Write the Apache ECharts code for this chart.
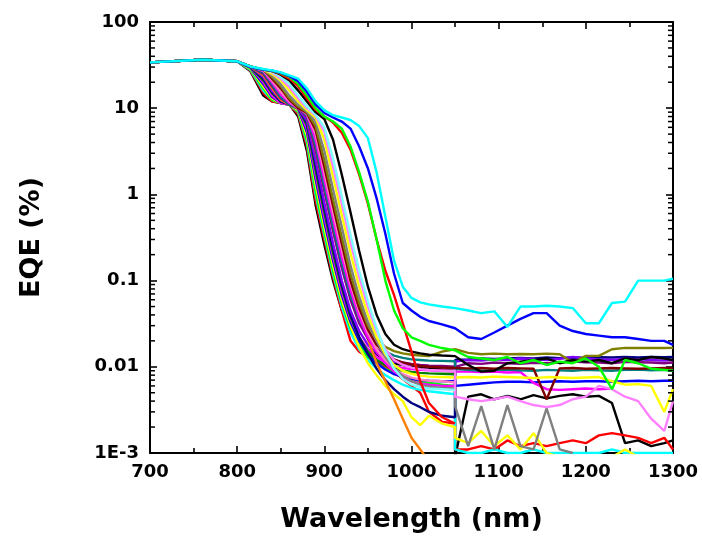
<!DOCTYPE html>
<html>
<head>
<meta charset="utf-8">
<script src="https://cdn.jsdelivr.net/npm/echarts@6/dist/echarts.min.js"></script>
<style>
  html, body { margin: 0; padding: 0; background: #fff; }
  #eqe-chart { width: 702px; height: 539px; }
</style>
</head>
<body>
<div id="eqe-chart"></div>
<script>
// wavelength grids (nm): first detector up to 1050, second detector after
const wavelengthHead = [700, 760, 800, 815, 830, 840, 850, 860, 870, 880, 890, 900, 910, 920, 930, 940, 950, 960, 970, 980, 990, 1000, 1010, 1020, 1035, 1050]
const wavelengthTail = [1050, 1065, 1080, 1095, 1110, 1125, 1140, 1155, 1170, 1185, 1200, 1215, 1230, 1245, 1260, 1275, 1290, 1300]

const yTickValues = [0.001, 0.01, 0.1, 1, 10, 100]
const yTickLabels = ['1E-3', '0.01', '0.1', '1', '10', '100']

// EQE (%) per device
const black1Head = [34, 36.5, 35, 27, 14, 12, 11.5, 11, 8, 3.2, 0.75, 0.26, 0.1, 0.045, 0.027, 0.02, 0.016, 0.014, 0.012, 0.011, 0.0105, 0.01, 0.0098, 0.0095, 0.0093, 0.0092]
const black1Tail = [0.0009, 0.0045, 0.0048, 0.0042, 0.0046, 0.0042, 0.0047, 0.0043, 0.0046, 0.0048, 0.0045, 0.0046, 0.0038, 0.0013, 0.0014, 0.0012, 0.0013, 0.0014]
const red1Head = [34, 36.5, 35, 27.5, 15, 12, 11.5, 11, 8.5, 3.6, 0.85, 0.3, 0.11, 0.045, 0.02, 0.015, 0.013, 0.0115, 0.01, 0.0088, 0.0072, 0.006, 0.005, 0.003, 0.0023, 0.0022]
const red1Tail = [0.0011, 0.0011, 0.0012, 0.0011, 0.0014, 0.0012, 0.0013, 0.0012, 0.0013, 0.0014, 0.0013, 0.0016, 0.0017, 0.0016, 0.0015, 0.0013, 0.0015, 0.0011]
const cyan1Head = [34, 36.5, 35, 28, 16, 12.5, 11.5, 11, 9, 4, 1.0, 0.34, 0.12, 0.05, 0.025, 0.016, 0.012, 0.0095, 0.008, 0.007, 0.0062, 0.0057, 0.0054, 0.0052, 0.005, 0.0048]
const cyan1Tail = [0.0011, 0.001, 0.001, 0.0011, 0.001, 0.001, 0.0011, 0.001, 0.001, 0.001, 0.001, 0.001, 0.0011, 0.001, 0.001, 0.001, 0.001, 0.001]
const green1Head = [34, 36.5, 35, 28.5, 17, 12.5, 11.5, 11, 9.2, 4.3, 1.1, 0.37, 0.13, 0.055, 0.028, 0.018, 0.013, 0.011, 0.0095, 0.0085, 0.0078, 0.0072, 0.0068, 0.0065, 0.0062, 0.006]
const yellow1Head = [34, 36.5, 35, 29, 18, 13, 11.5, 11, 9.5, 4.8, 1.3, 0.42, 0.15, 0.06, 0.03, 0.017, 0.011, 0.008, 0.006, 0.0048, 0.004, 0.0026, 0.0021, 0.0027, 0.0022, 0.002]
const yellow1Tail = [0.0015, 0.0013, 0.0018, 0.0012, 0.0016, 0.0011, 0.0017, 0.001, 0.0009, 0.0009, 0.0009, 0.0009, 0.0009, 0.0011, 0.0009, 0.0009, 0.0009, 0.0009]
const blue1Head = [34, 36.5, 35, 29.5, 19, 13.5, 11.5, 11, 9.8, 5.3, 1.5, 0.48, 0.17, 0.068, 0.033, 0.02, 0.014, 0.011, 0.0093, 0.0082, 0.0076, 0.0072, 0.007, 0.0069, 0.0068, 0.0068]
const blue1Tail = [0.006, 0.0062, 0.0064, 0.0066, 0.0067, 0.0067, 0.0066, 0.0067, 0.0068, 0.0067, 0.0068, 0.0068, 0.0067, 0.0068, 0.0069, 0.0068, 0.0069, 0.0069]
const magenta1Head = [34, 36.5, 35, 30, 20, 14, 11.5, 11, 10, 5.8, 1.7, 0.55, 0.19, 0.075, 0.036, 0.022, 0.016, 0.013, 0.011, 0.0102, 0.0097, 0.0094, 0.0092, 0.0091, 0.009, 0.0088]
const magenta1Tail = [0.0088, 0.0088, 0.0087, 0.0088, 0.0086, 0.0087, 0.0065, 0.0055, 0.0054, 0.0055, 0.0056, 0.0055, 0.0056]
const darkGreenHead = [34, 36.5, 35, 30, 21, 15, 12, 11, 10, 6.3, 1.9, 0.62, 0.21, 0.083, 0.038, 0.022, 0.015, 0.012, 0.0105, 0.0095, 0.009, 0.0087, 0.0085, 0.0084, 0.0083, 0.0082]
const navyHead = [34, 36.5, 35, 30.5, 22, 15.5, 12, 11, 10, 6.8, 2.2, 0.7, 0.24, 0.09, 0.04, 0.022, 0.014, 0.0095, 0.007, 0.0055, 0.0045, 0.0038, 0.0034, 0.003, 0.0027, 0.0026]
const navyTail = [0.012, 0.0122, 0.0125, 0.0123, 0.0125, 0.0127, 0.0125, 0.0128, 0.0126, 0.0128, 0.0127, 0.0129, 0.0128, 0.013, 0.0128, 0.013, 0.0129, 0.013]
const violetHead = [34, 36.5, 35, 30.5, 23, 16, 12.5, 11, 10, 7.2, 2.5, 0.8, 0.27, 0.1, 0.045, 0.026, 0.018, 0.0145, 0.0125, 0.0115, 0.011, 0.0106, 0.0104, 0.0102, 0.01, 0.0098]
const violetTail = [0.0115, 0.012, 0.0118, 0.0122, 0.012, 0.0125, 0.0123, 0.012, 0.0124, 0.013, 0.0125, 0.0122, 0.012, 0.0124, 0.0122, 0.012, 0.0118, 0.012]
const orangeHead = [34, 36.5, 35, 30.5, 24, 17, 12.5, 11, 10, 8, 3.2, 1.15, 0.38, 0.15, 0.07, 0.042, 0.021, 0.011, 0.0068, 0.0042, 0.0025, 0.0015, 0.0011, 0.0008, 0.0006, null]
const purpleHead = [34, 36.5, 35, 30.5, 25, 18, 13, 11, 10, 8, 3.3, 1.1, 0.38, 0.14, 0.06, 0.032, 0.021, 0.016, 0.0135, 0.012, 0.0112, 0.0108, 0.0105, 0.0103, 0.0102, 0.01]
const purpleTail = [0.0105, 0.011, 0.0108, 0.0112, 0.011, 0.0108, 0.0111, 0.011, 0.0112, 0.0115, 0.0113, 0.0112, 0.011, 0.0114, 0.0113, 0.0112, 0.011, 0.0112]
const tealHead = [34, 36.5, 35, 30.5, 26, 19, 13.5, 11, 10, 8.2, 3.7, 1.25, 0.43, 0.16, 0.068, 0.036, 0.023, 0.018, 0.015, 0.0135, 0.0127, 0.0122, 0.012, 0.0118, 0.0117, 0.0116]
const tealTail = [0.0095, 0.0092, 0.009, 0.0092, 0.0093, 0.0091, 0.009, 0.0092, 0.0091, 0.009, 0.0092, 0.0091, 0.009, 0.0092, 0.0093, 0.0091, 0.0092, 0.009]
const magenta2Head = [34, 36.5, 35, 30.5, 27, 20, 14.5, 11.5, 10, 8.5, 4.3, 1.5, 0.52, 0.19, 0.078, 0.038, 0.022, 0.015, 0.011, 0.0088, 0.0075, 0.0068, 0.0064, 0.0062, 0.006, 0.006]
const pinkHead = [34, 36.5, 35, 30.5, 27.5, 21, 15.5, 12, 10, 8.7, 5, 1.8, 0.62, 0.23, 0.092, 0.044, 0.025, 0.016, 0.012, 0.0095, 0.0082, 0.0075, 0.0071, 0.0069, 0.0068, 0.0066]
const wineHead = [34, 36.5, 35, 30.5, 28, 22, 17, 12.5, 10, 8.8, 5.6, 2.1, 0.74, 0.27, 0.1, 0.048, 0.027, 0.018, 0.014, 0.0122, 0.0112, 0.0106, 0.0102, 0.01, 0.0098, 0.0097]
const wineTail = [0.0097, 0.0096, 0.0097, 0.0095, 0.0097, 0.0096, 0.0095, 0.0042, 0.0096, 0.0097, 0.0095, 0.0096, 0.0097, 0.0096, 0.0095, 0.0096, 0.0097, 0.0096]
const oliveHead = [34, 36.5, 35, 30.5, 28, 23, 18, 13, 10.5, 9, 6.2, 2.5, 0.88, 0.32, 0.12, 0.055, 0.03, 0.021, 0.017, 0.0152, 0.0143, 0.0138, 0.0135, 0.0133, 0.015, 0.016]
const oliveTail = [0.016, 0.0145, 0.014, 0.0142, 0.014, 0.0141, 0.014, 0.0142, 0.014, 0.0112, 0.0134, 0.0134, 0.016, 0.0166, 0.0165, 0.0166, 0.0165, 0.0166]
const grayHead = [34, 36.5, 35, 30, 28, 24, 19, 14, 11, 9.2, 7, 3.2, 1.15, 0.42, 0.15, 0.065, 0.033, 0.02, 0.013, 0.0095, 0.0078, 0.0068, 0.0062, 0.0059, 0.0057, 0.0056]
const grayTail = [0.0035, 0.0012, 0.0035, 0.0011, 0.0036, 0.0012, 0.0011, 0.0033, 0.0011, 0.001]
const yellow2Head = [34, 36.5, 35, 30, 28, 25, 21, 16, 12, 9.5, 7.8, 4.3, 1.6, 0.58, 0.21, 0.085, 0.04, 0.022, 0.014, 0.0105, 0.009, 0.0083, 0.0079, 0.0077, 0.0076, 0.0075]
const yellow2Tail = [0.0078, 0.0076, 0.0075, 0.0077, 0.0076, 0.0075, 0.0074, 0.0076, 0.0075, 0.0074, 0.0075, 0.0076, 0.0068, 0.0062, 0.0063, 0.006, 0.003, 0.0055]
const ltMagentaHead = [34, 36.5, 35, 30, 28, 26, 22, 17.5, 13, 10, 8.2, 5.3, 2.1, 0.78, 0.28, 0.11, 0.05, 0.026, 0.016, 0.012, 0.0105, 0.0098, 0.0094, 0.0092, 0.009, 0.009]
const ltMagentaTail = [0.0045, 0.0042, 0.004, 0.0042, 0.0045, 0.004, 0.0036, 0.0034, 0.0036, 0.0042, 0.0045, 0.006, 0.0055, 0.0045, 0.004, 0.0025, 0.0018, 0.004]
const ltCyanHead = [34, 36.5, 35, 30, 28, 26.5, 23, 19, 14, 10.5, 8.4, 6, 2.6, 0.95, 0.34, 0.13, 0.058, 0.028, 0.015, 0.0095, 0.0072, 0.0062, 0.0058, 0.0056, 0.0055, 0.0054]
const black2Head = [34, 36.5, 35, 30, 28, 27, 24.5, 21, 16, 12, 9, 7.5, 4.3, 1.7, 0.62, 0.22, 0.085, 0.04, 0.024, 0.018, 0.016, 0.015, 0.0143, 0.0138, 0.0135, 0.0133]
const black2Tail = [0.0133, 0.0105, 0.0088, 0.009, 0.011, 0.0115, 0.012, 0.0125, 0.011, 0.012, 0.0115, 0.012, 0.011, 0.0125, 0.012, 0.013, 0.0125, 0.012]
const red2Head = [34, 36.5, 35, 30, 28, 27, 25, 22, 18, 13, 9.6, 8, 6.8, 5.2, 3.3, 1.7, 0.78, 0.3, 0.13, 0.068, 0.032, 0.015, 0.0068, 0.0038, 0.0026, 0.0022]
const green2Head = [34, 36.5, 35, 30, 28, 27.2, 25.5, 23, 19, 14, 10, 8, 7, 5.8, 3.6, 1.8, 0.82, 0.3, 0.1, 0.045, 0.028, 0.022, 0.02, 0.018, 0.0165, 0.0155]
const green2Tail = [0.0155, 0.013, 0.0125, 0.012, 0.013, 0.011, 0.012, 0.0105, 0.0115, 0.011, 0.0125, 0.01, 0.0055, 0.012, 0.011, 0.0095, 0.0092, 0.009]
const blue2Head = [34, 36.5, 35, 30, 28, 27.3, 25.8, 23.5, 20.5, 15.5, 11, 8.8, 7.8, 7, 5.8, 3.6, 2.0, 0.9, 0.35, 0.12, 0.055, 0.045, 0.038, 0.034, 0.031, 0.028]
const blue2Tail = [0.028, 0.022, 0.021, 0.025, 0.03, 0.036, 0.042, 0.042, 0.03, 0.026, 0.024, 0.023, 0.022, 0.022, 0.021, 0.02, 0.02, 0.018]
const cyan2Head = [34, 36.5, 35, 30.5, 28.5, 27.5, 26, 24, 22, 17, 12, 9.5, 8.3, 7.8, 7.3, 6.2, 4.5, 1.8, 0.55, 0.17, 0.085, 0.063, 0.056, 0.053, 0.05, 0.048]
const cyan2Tail = [0.047, 0.045, 0.042, 0.044, 0.029, 0.05, 0.05, 0.051, 0.05, 0.048, 0.032, 0.032, 0.055, 0.057, 0.1, 0.1, 0.1, 0.105]

const curves = [
  { head: black1Head, tail: black1Tail, color: '#000000' },
  { head: red1Head, tail: red1Tail, color: '#FF0000' },
  { head: cyan1Head, tail: cyan1Tail, color: '#00FFFF' },
  { head: green1Head, tail: [], color: '#00FF00' },
  { head: yellow1Head, tail: yellow1Tail, color: '#FFFF00' },
  { head: blue1Head, tail: blue1Tail, color: '#0000FF' },
  { head: magenta1Head, tail: magenta1Tail, color: '#FF00FF' },
  { head: darkGreenHead, tail: [], color: '#008000' },
  { head: navyHead, tail: navyTail, color: '#000080' },
  { head: violetHead, tail: violetTail, color: '#8000FF' },
  { head: orangeHead, tail: [], color: '#FF8000' },
  { head: purpleHead, tail: purpleTail, color: '#800080' },
  { head: tealHead, tail: tealTail, color: '#008080' },
  { head: magenta2Head, tail: [], color: '#FF00FF' },
  { head: pinkHead, tail: [], color: '#FF80C0' },
  { head: wineHead, tail: wineTail, color: '#800000' },
  { head: oliveHead, tail: oliveTail, color: '#808000' },
  { head: grayHead, tail: grayTail, color: '#808080' },
  { head: yellow2Head, tail: yellow2Tail, color: '#FFFF00' },
  { head: ltMagentaHead, tail: ltMagentaTail, color: '#FF80FF' },
  { head: ltCyanHead, tail: [], color: '#80FFFF' },
  { head: black2Head, tail: black2Tail, color: '#000000' },
  { head: red2Head, tail: [], color: '#FF0000' },
  { head: green2Head, tail: green2Tail, color: '#00FF00' },
  { head: blue2Head, tail: blue2Tail, color: '#0000FF' },
  { head: cyan2Head, tail: cyan2Tail, color: '#00FFFF' }
]

const labelFont = { fontFamily: 'DejaVu Sans', fontWeight: 'bold', fontSize: 18, color: '#000' }
const nameFont = { fontFamily: 'DejaVu Sans', fontWeight: 'bold', fontSize: 27, color: '#000' }
const frameLine = { show: true, lineStyle: { color: '#000', width: 2 } }
const tickStyle = { color: '#000', width: 1.6 }

function buildData(c) {
  const pts = []
  wavelengthHead.forEach((w, i) => {
    if (c.head[i] != null) pts.push([w, c.head[i]])
  })
  c.tail.forEach((v, i) => pts.push([wavelengthTail[i], v]))
  return pts
}

const lineSeries = curves.map(c => ({
  type: 'line',
  data: buildData(c),
  showSymbol: false,
  symbol: 'none',
  clip: true,
  lineStyle: { color: c.color, width: 2.4 },
  itemStyle: { color: c.color }
}))

const chart = echarts.init(document.getElementById('eqe-chart'))
chart.setOption({
  backgroundColor: '#fff',
  animation: false,
  grid: { left: 150, right: 29, top: 22, bottom: 86 },
  xAxis: [{
    type: 'value',
    min: 700,
    max: 1300,
    interval: 100,
    name: 'Wavelength (nm)',
    nameLocation: 'middle',
    nameGap: 53,
    nameTextStyle: nameFont,
    axisLine: frameLine,
    axisTick: { show: true, inside: true, length: 7, lineStyle: tickStyle },
    minorTick: { show: true, splitNumber: 2, length: 5, lineStyle: tickStyle },
    axisLabel: Object.assign({ margin: 10, formatter: v => String(v) }, labelFont),
    splitLine: { show: false }
  }, {
    type: 'value',
    position: 'top',
    min: 700,
    max: 1300,
    interval: 100,
    axisLine: frameLine,
    axisTick: { show: true, inside: true, length: 7, lineStyle: tickStyle },
    minorTick: { show: true, splitNumber: 2, length: 5, lineStyle: tickStyle },
    axisLabel: { show: false },
    splitLine: { show: false }
  }],
  yAxis: [{
    type: 'log',
    logBase: 10,
    min: 0.001,
    max: 100,
    splitNumber: 5,
    name: 'EQE (%)',
    nameLocation: 'middle',
    nameGap: 105,
    nameTextStyle: nameFont,
    axisLine: frameLine,
    axisTick: { show: true, inside: true, length: 7, lineStyle: tickStyle },
    axisLabel: Object.assign({
      margin: 11,
      formatter: v => {
        const i = yTickValues.findIndex(t => Math.abs(Math.log10(t) - Math.log10(v)) < 1e-6)
        return i >= 0 ? yTickLabels[i] : ''
      }
    }, labelFont),
    splitLine: { show: false }
  }, {
    type: 'log',
    logBase: 10,
    min: 0.001,
    max: 100,
    splitNumber: 5,
    position: 'right',
    axisLine: frameLine,
    axisTick: { show: true, inside: true, length: 7, lineStyle: tickStyle },
    axisLabel: { show: false },
    splitLine: { show: false }
  }],
  series: lineSeries
})

// log minor ticks (2..9 of each decade) on left and right frame
const minorTicks = []
yTickValues.slice(0, -1).forEach(d => {
  for (let m = 2; m <= 9; m++) {
    const l = chart.convertToPixel({ xAxisIndex: 0, yAxisIndex: 0 }, [700, d * m])
    const r = chart.convertToPixel({ xAxisIndex: 0, yAxisIndex: 0 }, [1300, d * m])
    minorTicks.push({ type: 'line', shape: { x1: l[0], y1: l[1], x2: l[0] + 5, y2: l[1] }, style: { stroke: '#000', lineWidth: 1.5 }, z: 100, silent: true })
    minorTicks.push({ type: 'line', shape: { x1: r[0] - 5, y1: r[1], x2: r[0], y2: r[1] }, style: { stroke: '#000', lineWidth: 1.5 }, z: 100, silent: true })
  }
})
chart.setOption({ graphic: minorTicks })
</script>
</body>
</html>
